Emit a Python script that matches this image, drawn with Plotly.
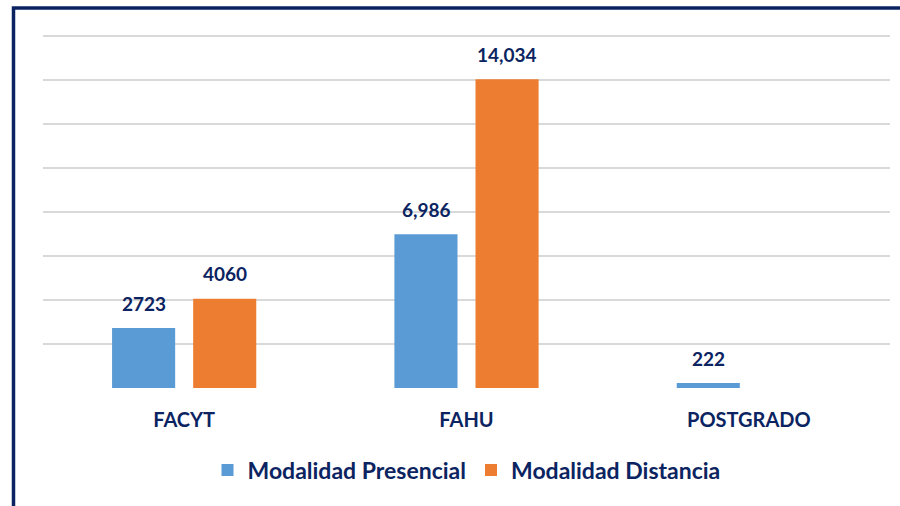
import plotly.graph_objects as go

categories = ["FACYT", "FAHU", "POSTGRADO"]
presencial = [2723, 6986, 222]
presencial_labels = ["2723", "6,986", "222"]
distancia = [4060, 14034, 0]
distancia_labels = ["4060", "14,034", ""]
grid_values = [0, 2000, 4000, 6000, 8000, 10000, 12000, 14000, 16000]

NAVY = "#0B2461"
FONT = "Lato"

fig = go.Figure()
fig.add_trace(go.Bar(
    name="Modalidad Presencial", x=categories, y=presencial,
    marker=dict(color="#5B9BD5", line=dict(width=0)),
))
fig.add_trace(go.Bar(
    name="Modalidad Distancia", x=categories, y=distancia,
    marker=dict(color="#ED7D31", line=dict(width=0)),
))

W, H = 900, 506
L, R, T, B = 43, 10, 32, 118
pw, ph = W - L - R, H - T - B

def px(x):
    return (x - L) / pw

def py(y):
    return (H - B - y) / ph

annotations = []
for vals, labs, shift in ((presencial, presencial_labels, -40.5), (distancia, distancia_labels, 40.5)):
    for c, v, t in zip(categories, vals, labs):
        if t:
            annotations.append(dict(
                x=c, y=v, xref="x", yref="y", text=t, showarrow=False,
                xshift=shift, yshift=25, yanchor="middle",
                font=dict(family=FONT, size=19, color=NAVY, weight="bold"),
            ))

fig.update_layout(
    width=W, height=H,
    margin=dict(l=L, r=R, t=T, b=B),
    paper_bgcolor="white", plot_bgcolor="white",
    barmode="group", bargap=0.4255, bargroupgap=0.222,
    font=dict(family=FONT, color=NAVY),
    showlegend=True,
    legend=dict(
        orientation="h", x=0.5, xanchor="center", y=py(470), yanchor="middle",
        font=dict(family=FONT, size=23, color=NAVY, weight="bold"),
        itemwidth=30, traceorder="normal",
    ),
    xaxis=dict(
        showgrid=False, zeroline=False, showline=False, ticks="",
        tickfont=dict(family=FONT, size=20, color=NAVY, weight="bold"),
        ticklabelstandoff=18,
    ),
    yaxis=dict(
        range=[0, 16182], tickvals=grid_values,
        showticklabels=False,
        showgrid=True, gridcolor="#D9D9D9", gridwidth=1.5,
        zeroline=False, showline=False,
    ),
    annotations=annotations,
    shapes=[dict(
        type="rect", xref="paper", yref="paper",
        x0=px(13.5), x1=px(910), y0=py(520), y1=py(8),
        line=dict(color=NAVY, width=3.5), fillcolor="rgba(0,0,0,0)",
        layer="above",
    )],
)

fig.write_html("out.html", config={"displayModeBar": False},
               post_script="document.body.style.margin='0px';")
